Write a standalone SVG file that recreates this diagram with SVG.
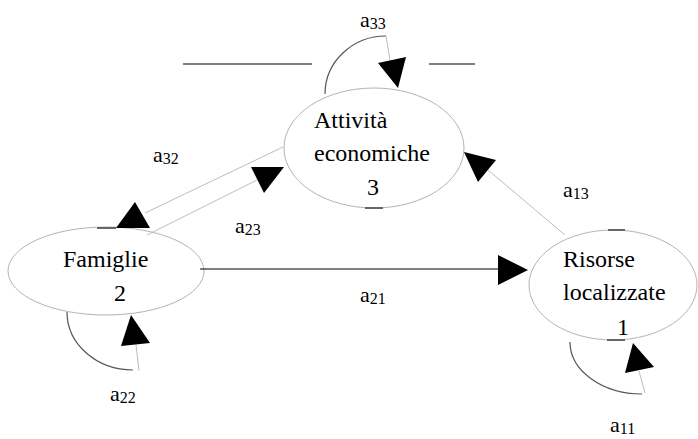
<svg xmlns="http://www.w3.org/2000/svg" width="698" height="439" viewBox="0 0 698 439">
<style>
.node{fill:none;stroke:#b4b4b4;stroke-width:1}
.tick{stroke:#666;stroke-width:2}
.t{font-family:"Liberation Serif","DejaVu Serif",serif;font-size:24px;fill:#000}
.lbl{font-family:"Liberation Serif","DejaVu Serif",serif;font-size:22px;fill:#000}
.sub{font-size:16px}
.edge{fill:none;stroke:#bdbdbd;stroke-width:1}
.loop{fill:none;stroke:#555;stroke-width:1.2}
.dark{fill:none;stroke:#000;stroke-width:1.2}
.head{fill:#000;stroke:none}
</style>
<rect width="698" height="439" fill="#fff"/>
<g id="decor">
<line class="dark" x1="183" y1="64" x2="312" y2="64"/>
<line class="dark" x1="429" y1="64" x2="475" y2="64"/>
</g>
<g id="node3">
<ellipse class="node" cx="374" cy="148" rx="90" ry="60"/>
<line class="tick" x1="365" y1="208" x2="383" y2="208"/>
<text class="t" x="314" y="128">Attività</text>
<text class="t" x="314" y="161">economiche</text>
<text class="t" x="367" y="195">3</text>
</g>
<g id="node2">
<ellipse class="node" cx="106" cy="271" rx="98" ry="44"/>
<line class="tick" x1="97" y1="228" x2="116" y2="228"/>
<text class="t" x="63" y="267">Famiglie</text>
<text class="t" x="114" y="301">2</text>
</g>
<g id="node1">
<ellipse class="node" cx="613" cy="285" rx="84" ry="55"/>
<line class="tick" x1="608" y1="230" x2="625" y2="230"/>
<line class="tick" x1="607" y1="340" x2="625" y2="340"/>
<text class="t" x="563" y="267">Risorse</text>
<text class="t" x="563" y="300">localizzate</text>
<text class="t" x="617" y="335">1</text>
</g>
<g id="connectors">
<line class="dark" x1="200" y1="269" x2="500" y2="269"/>
<polygon class="head" points="498,255 528,270 498,285"/>
<line class="edge" x1="283" y1="147" x2="145" y2="213"/>
<polygon class="head" points="116,228 150,228 135,202"/>
<line class="edge" x1="147" y1="235" x2="257" y2="180"/>
<polygon class="head" points="251,167 284,167 264,193"/>
<line class="edge" x1="565" y1="235" x2="488" y2="170"/>
<polygon class="head" points="464,152 496,160 478,182"/>
<path class="loop" d="M325,94 A61,58 0 0 1 386,36"/>
<line class="edge" x1="386" y1="36" x2="390" y2="60"/>
<polygon class="head" points="378,63 406,57 398,88"/>
<path class="loop" d="M67,312 A66,58 0 0 0 133,370"/>
<line class="edge" x1="139" y1="371" x2="136" y2="345"/>
<polygon class="head" points="121,346 150,343 131,315"/>
<path class="loop" d="M570,342 A72,52 0 0 0 642,394"/>
<line class="edge" x1="645" y1="393" x2="639" y2="371"/>
<polygon class="head" points="625,373 654,367 633,343"/>
</g>
<g id="labels">
<text class="lbl" x="360" y="27">a<tspan class="sub" dy="2">33</tspan></text>
<text class="lbl" x="153" y="162">a<tspan class="sub" dy="2">32</tspan></text>
<text class="lbl" x="235" y="233">a<tspan class="sub" dy="2">23</tspan></text>
<text class="lbl" x="360" y="302">a<tspan class="sub" dy="2">21</tspan></text>
<text class="lbl" x="563" y="197">a<tspan class="sub" dy="2">13</tspan></text>
<text class="lbl" x="610" y="432">a<tspan class="sub" dy="2">11</tspan></text>
<text class="lbl" x="110" y="401">a<tspan class="sub" dy="2">22</tspan></text>
</g>
</svg>
